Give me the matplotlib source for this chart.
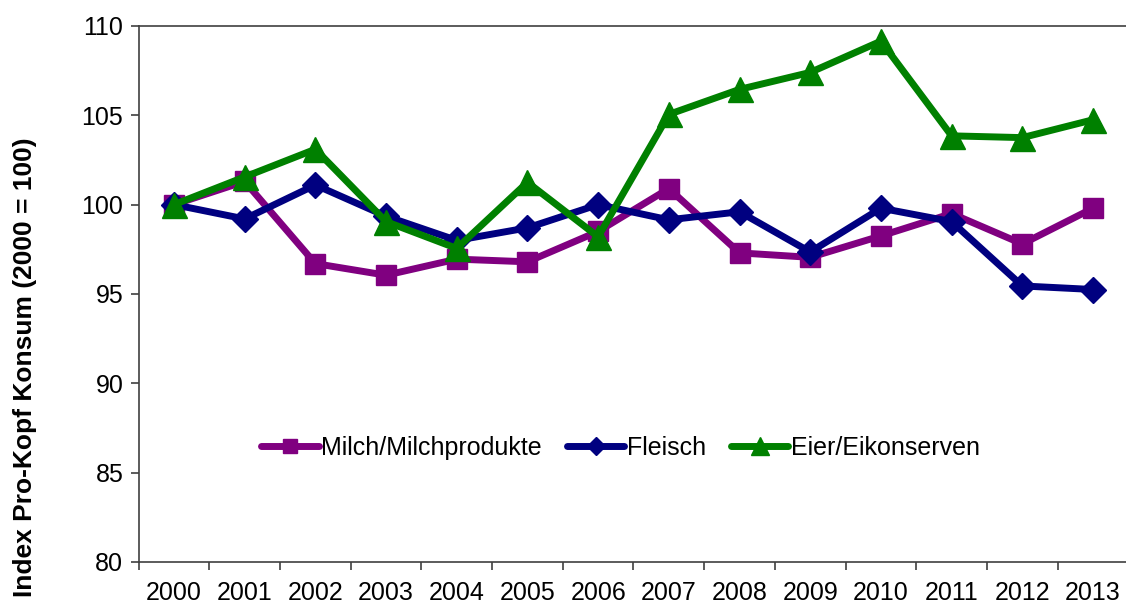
import numpy as np
import matplotlib.pyplot as plt

plt.rcParams['font.family'] = ['Liberation Sans', 'DejaVu Sans']

# Daten (Index Pro-Kopf Konsum, 2000 = 100)
jahre = ['2000', '2001', '2002', '2003', '2004', '2005', '2006',
         '2007', '2008', '2009', '2010', '2011', '2012', '2013']
milch = [100.0, 101.3, 96.7, 96.05, 96.95, 96.8, 98.5,
         100.9, 97.3, 97.05, 98.25, 99.5, 97.8, 99.8]
fleisch = [100.0, 99.2, 101.1, 99.35, 98.0, 98.7, 100.0,
           99.15, 99.6, 97.35, 99.8, 99.05, 95.45, 95.25]
eier = [100.0, 101.55, 103.1, 99.05, 97.55, 101.25, 98.2,
        105.05, 106.45, 107.4, 109.15, 103.85, 103.75, 104.75]

fig = plt.figure(figsize=(11.26, 6.05), dpi=100)
ax = fig.add_axes([0.1231, 0.0711, 0.879, 0.886])

x = np.arange(len(jahre))
ax.plot(x, milch, color='#800080', lw=5, marker='s', ms=14,
        label='Milch/Milchprodukte', solid_capstyle='round')
ax.plot(x, fleisch, color='#000080', lw=5, marker='D', ms=13,
        label='Fleisch', solid_capstyle='round')
ax.plot(x, eier, color='#008000', lw=5, marker='^', ms=18,
        label='Eier/Eikonserven', solid_capstyle='round')

ax.set_xlim(-0.5, len(jahre) - 0.5)
ax.set_ylim(80, 110)
ax.set_yticks(np.arange(80, 111, 5))
ax.set_xticks(x)
ax.set_xticklabels(jahre)
ax.set_xticks(np.arange(-0.5, len(jahre), 1), minor=True)
ax.tick_params(axis='x', which='major', length=0, pad=14, labelsize=18)
ax.tick_params(axis='x', which='minor', length=6, width=1.2, color='#404040')
ax.tick_params(axis='y', length=6, width=1.2, color='#404040', pad=5, labelsize=18)

for s in ax.spines.values():
    s.set_color('#404040')
    s.set_linewidth(1.2)

ax.set_ylabel('Index Pro-Kopf Konsum (2000 = 100)', fontsize=19,
              fontweight='bold')
ax.yaxis.set_label_coords(-0.1026, 0.364)

ax.legend(loc='center', bbox_to_anchor=(0.487, 0.213), ncol=3, frameon=False,
          fontsize=18, handlelength=2.3, markerscale=0.7, columnspacing=1.0,
          handletextpad=0.1)

fig.savefig('out.png', dpi=100)
